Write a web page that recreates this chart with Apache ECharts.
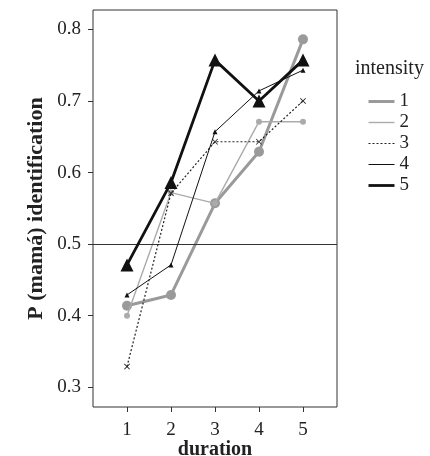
<!DOCTYPE html>
<html>
<head>
<meta charset="utf-8">
<script src="https://cdn.jsdelivr.net/npm/echarts@6/dist/echarts.min.js"></script>
<style>
  html, body { margin: 0; padding: 0; background: #fff; }
  #chart { width: 430px; height: 456px; }
</style>
</head>
<body>
<div id="chart"></div>
<script>
// Durations on the x axis and identification rates per intensity level
const durations = [1, 2, 3, 4, 5];
const intensity1 = [0.414, 0.429, 0.557, 0.629, 0.786];
const intensity2 = [0.400, 0.572, 0.557, 0.671, 0.671];
const intensity3 = [0.329, 0.571, 0.643, 0.643, 0.700];
const intensity4 = [0.429, 0.471, 0.657, 0.714, 0.743];
const intensity5 = [0.471, 0.586, 0.757, 0.700, 0.757];
const levels = ['1', '2', '3', '4', '5'];
const yTicks = [0.3, 0.4, 0.5, 0.6, 0.7, 0.8];
const chanceLevel = 0.5;

const FONT = '"Liberation Serif", "DejaVu Serif", serif';
const INK = '#222';
const crossPath = 'path://M0,1L1,0L5,4L9,0L10,1L6,5L10,9L9,10L5,6L1,10L0,9L4,5Z';

// per-level drawing styles
const styles = [
  { color: '#9a9a9a', width: 3,   type: 'solid', symbol: 'circle',   size: 10 },
  { color: '#ababab', width: 1.4, type: 'solid', symbol: 'circle',   size: 6 },
  { color: INK,       width: 1.2, type: [2, 2],  symbol: crossPath,  size: 6 },
  { color: '#111',    width: 1,   type: 'solid', symbol: 'triangle', size: 5 },
  { color: '#111',    width: 2.8, type: 'solid', symbol: 'triangle', size: 13 }
];
const values = [intensity1, intensity2, intensity3, intensity4, intensity5];

function pairs(vals) {
  return durations.map((d, i) => [d, vals[i]]);
}

const series = levels.map((name, k) => {
  const s = styles[k];
  const item = {
    name: name,
    type: 'line',
    data: pairs(values[k]),
    symbol: s.symbol,
    symbolSize: s.size,
    lineStyle: { color: s.color, width: s.width, type: s.type },
    itemStyle: { color: s.color },
    z: 2 + k
  };
  if (k === 0) {
    item.markLine = {
      silent: true, symbol: 'none', label: { show: false },
      lineStyle: { color: '#333', width: 1, type: 'solid' },
      data: [{ yAxis: chanceLevel }]
    };
  }
  return item;
});

const chart = echarts.init(document.getElementById('chart'), null, { renderer: 'canvas' });

chart.setOption({
  animation: false,
  backgroundColor: '#fff',
  textStyle: { fontFamily: FONT, color: INK },
  title: {
    text: 'intensity',
    left: 350,
    top: 54,
    textStyle: { fontFamily: FONT, fontSize: 20, fontWeight: 'normal', color: INK }
  },
  legend: {
    orient: 'vertical',
    left: 362,
    top: 87,
    itemWidth: 26,
    itemHeight: 14,
    itemGap: 2,
    itemStyle: { opacity: 0 },
    textStyle: { fontFamily: FONT, fontSize: 19, lineHeight: 18, color: INK },
    data: levels.map((name, k) => ({
      name: name,
      lineStyle: { width: styles[k].width, type: styles[k].type, color: styles[k].color }
    }))
  },
  grid: {
    left: 93, top: 10, width: 244, height: 397,
    outerBoundsMode: 'none',
    show: true, borderColor: '#333', borderWidth: 1, backgroundColor: 'transparent'
  },
  xAxis: {
    type: 'value',
    min: 0.227, max: 5.773,
    name: 'duration',
    nameLocation: 'middle',
    nameGap: 33,
    nameMoveOverlap: false,
    nameTextStyle: { fontFamily: FONT, fontSize: 20, fontWeight: 'bold', color: INK },
    axisLine: { show: false },
    splitLine: { show: false },
    axisTick: { show: true, length: 5, lineStyle: { color: '#333' }, customValues: durations },
    axisLabel: { fontFamily: FONT, fontSize: 19, color: INK, margin: 14, customValues: durations }
  },
  yAxis: {
    type: 'value',
    min: 0.2725, max: 0.827,
    name: 'P (mamá) identification',
    nameLocation: 'middle',
    nameGap: 46,
    nameMoveOverlap: false,
    nameTextStyle: { fontFamily: FONT, fontSize: 22, fontWeight: 'bold', color: INK },
    axisLine: { show: false },
    splitLine: { show: false },
    axisTick: { show: true, length: 5, lineStyle: { color: '#333' }, customValues: yTicks },
    axisLabel: { fontFamily: FONT, fontSize: 19, color: INK, margin: 12, customValues: yTicks,
      formatter: v => v.toFixed(1) }
  },
  series: series
});
</script>
</body>
</html>
